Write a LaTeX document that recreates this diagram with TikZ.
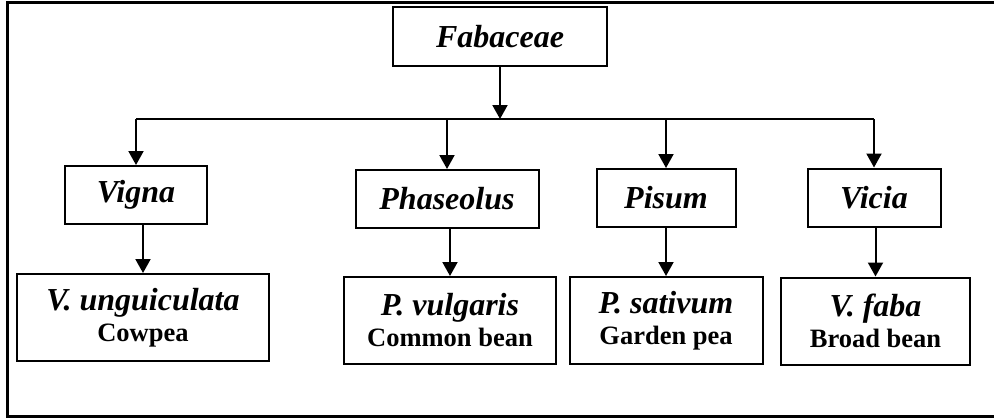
\documentclass[tikz,border=0pt]{standalone}
\usepackage{fontspec}
\setmainfont{Liberation Serif}
\usetikzlibrary{positioning,arrows.meta}
\newcommand{\genfont}{\fontsize{32}{31}\selectfont\bfseries\itshape}
\newcommand{\comfont}{\fontsize{26.5}{31}\selectfont\bfseries\upshape}
\tikzset{
  famnode/.style={draw, line width=2pt, minimum width=214pt, minimum height=59pt,
                  inner sep=0pt, font=\genfont},
  genbox/.style={draw, line width=2pt, minimum height=58pt, inner sep=0pt,
                 font=\genfont},
  spbox/.style={draw, line width=2pt, minimum height=87pt, inner sep=0pt,
                align=center, font=\genfont},
  link/.style={line width=2pt, -{Triangle[length=14pt,width=15pt]}},
  branch/.style={line width=2pt},
  frameline/.style={line width=3pt},
}

\begin{document}
\begin{tikzpicture}[x=1pt, y=-1pt]
  \useasboundingbox (0,0) rectangle (994,418);
  \clip (0,0) rectangle (994,418);
  % outer frame (right side runs off the page)
  \draw[frameline] (1000,2.5) -- (7,2.5) -- (7,416.5) -- (1000,416.5);

  % family and genera
  \node[famnode] (fab) at (500,36.5) {Fabaceae};
  \node[genbox, minimum width=142pt] (vigna) at (136,195) {Vigna};
  \node[genbox, minimum width=183pt] (phas) at (447,199) {Phaseolus};
  \node[genbox, minimum width=139pt] (pisum) at (666,198) {Pisum};
  \node[genbox, minimum width=133pt] (vicia) at (874,197.5) {Vicia};

  % species
  \node[spbox, minimum width=252pt, below=48pt of vigna, xshift=7pt] (vung)
    {V. unguiculata\\{\comfont Cowpea}};
  \node[spbox, minimum width=212pt, below=47pt of phas, xshift=3pt] (pvul)
    {P. vulgaris\\{\comfont Common bean}};
  \node[spbox, minimum width=193pt, below=48pt of pisum] (psat)
    {P. sativum\\{\comfont Garden pea}};
  \node[spbox, minimum width=189pt, below=49pt of vicia, xshift=1.5pt] (vfab)
    {V. faba\\{\comfont Broad bean}};

  % connectors
  \coordinate (bus) at (fab.south |- 0,119);
  \draw[link] (fab.south) -- (bus);
  \draw[branch] (bus -| vigna.north) -- (bus -| vicia.north);
  \foreach \g in {vigna,phas,pisum,vicia}
    \draw[link] (bus -| \g.north) -- (\g.north);
  \draw[link] (vigna.south -| vung.north) -- (vung.north);
  \draw[link] (phas.south -| pvul.north) -- (pvul.north);
  \draw[link] (pisum.south -| psat.north) -- (psat.north);
  \draw[link] (vicia.south -| vfab.north) -- (vfab.north);
\end{tikzpicture}
\end{document}
